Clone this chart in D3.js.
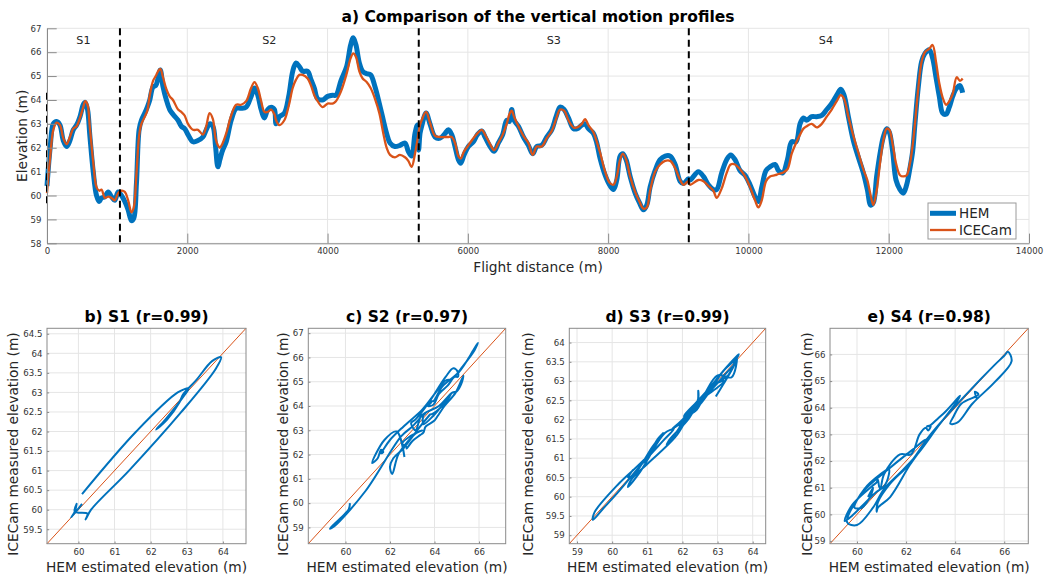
<!DOCTYPE html>
<html>
<head>
<meta charset="utf-8">
<script src="https://cdn.jsdelivr.net/npm/d3@7"></script>
<style>
  body { margin: 0; background: #fff; }
  svg { display: block; }
</style>
</head>
<body>
<svg id="fig" width="1045" height="579"></svg>
<script>
// ---- Profile data: flight distance (m) with HEM and ICECam elevations (m) ----
const distance = [
  0,45,90,137,185,232,280,327,374,422,470,517,545,578,611,659,706,744,777,825,872,920,967,1014,
  1062,1109,1157,1204,1237,1275,1313,1346,1394,1430,1465,1512,1550,1583,1616,1654,1702,1749,1796,1868,
  1915,1962,2010,2081,2152,2223,2270,2318,2365,2403,2436,2465,2498,2555,2626,2697,2768,2839,2910,2958,
  3005,3053,3100,3147,3195,3242,3266,3313,3384,3446,3503,3550,3598,3645,3716,3764,3811,3858,3929,4001,
  4072,4119,4190,4272,4329,4367,4405,4453,4500,4557,4614,4676,4738,4795,4842,4890,4961,5032,5104,5151,
  5199,5246,5280,5298,
  5318,5341,5404,5460,5532,5604,5675,5722,5770,5817,5865,5898,5946,6007,6079,6136,6198,6245,6317,6374,
  6435,6497,6554,6592,6625,6659,6721,6792,6863,6925,6982,7054,7125,7196,7258,7315,7372,7434,7505,7562,
  7624,7671,7719,7790,7838,7885,7957,8019,8076,8123,8171,8209,8256,8313,8385,8446,8503,8551,8598,8670,
  8741,8812,8884,8955,9026,9074,9145,
  9167,9286,9358,9429,9500,9548,9619,9690,9747,9809,9880,9952,10023,10094,10142,10190,10251,10308,10380,10427,
  10489,10556,10617,10679,10736,10784,10831,10902,10974,11045,11116,11187,11259,11316,11363,11425,11496,11567,11638,11695,
  11743,11781,11828,11876,11923,11971,12009,12056,12104,12161,12208,12256,12303,12341,12374,12422,12469,12517,12579,12626,
  12674,12721,12769,12817,12864,12912,12969,13016,13054
];

const hem = [
  60.4,62.0,63.0,63.1,62.95,62.3,62.05,62.3,62.75,62.95,63.3,63.8,63.9,63.6,62.5,61.0,60.0,59.75,59.9,59.95,60.15,59.95,59.8,60.15,
  60.0,59.75,59.4,58.95,59.05,60.5,62.75,63.15,63.45,63.7,64.0,64.55,64.6,64.9,65.25,64.55,64.0,63.6,63.4,63.15,
  62.9,62.8,62.55,62.25,62.3,62.45,62.75,63.0,62.9,62.05,61.2,61.5,61.85,62.25,63.15,63.65,63.65,63.7,64.15,64.5,
  64.2,63.6,63.25,63.6,63.7,63.6,63.0,63.3,63.45,64.15,65.2,65.55,65.4,65.2,65.2,64.85,64.5,64.05,64.0,64.15,
  64.2,64.2,64.8,65.4,66.3,66.6,66.3,65.55,65.2,65.1,65.05,64.55,63.85,63.15,62.6,62.2,62.05,62.1,62.2,61.85,
  61.65,62.6,62.95,61.9,
  62.6,62.9,63.45,63.0,62.45,62.4,62.6,62.75,62.55,62.05,61.5,61.35,61.7,62.05,62.25,62.55,62.7,62.45,62.05,61.85,
  62.2,62.55,63.15,63.1,63.6,63.15,62.9,62.45,62.1,61.75,62.05,62.1,62.45,62.75,63.3,63.7,63.6,63.25,62.8,62.8,
  62.95,63.0,62.8,62.6,62.2,61.55,60.85,60.45,60.25,60.65,61.65,61.75,61.5,60.8,60.1,59.7,59.4,59.6,60.35,61.05,
  61.5,61.65,61.65,61.3,60.6,60.5,60.7,
  60.65,61.0,60.8,60.45,60.25,60.25,60.95,61.5,61.7,61.5,61.05,60.85,60.45,59.95,59.75,60.35,61.05,61.2,61.3,61.05,
  60.95,61.5,62.25,62.25,63.0,63.25,63.15,63.3,63.3,63.35,63.6,63.85,64.2,64.45,64.2,63.3,62.3,61.6,60.95,60.25,
  59.6,59.7,60.8,61.75,62.45,62.8,62.65,61.85,60.65,60.25,60.1,60.45,61.15,61.85,63.0,64.55,65.6,65.95,66.1,65.75,
  64.95,64.15,63.45,63.4,63.7,64.15,64.5,64.6,64.3
];

const icecam = [
  60.1,61.6,62.75,63.05,62.95,62.4,62.15,62.45,62.8,62.9,63.25,63.7,63.95,63.8,62.85,61.4,60.35,60.2,60.25,59.9,59.95,59.9,59.8,60.1,
  60.2,60.15,59.8,59.3,59.5,60.9,62.5,63.0,63.3,63.55,64.2,64.8,65.0,65.2,65.3,64.95,64.45,64.15,64.0,63.6,
  63.5,63.35,63.0,62.75,62.75,62.55,62.9,63.45,63.2,62.4,62.1,62.0,62.15,62.6,63.35,63.8,63.8,63.95,64.5,64.75,
  64.5,63.95,63.5,63.5,63.6,63.4,63.15,62.95,63.15,63.75,64.5,64.85,65.05,65.05,64.9,64.6,64.2,63.95,63.7,63.85,
  63.85,63.95,64.35,65.1,65.75,65.95,65.8,65.2,64.9,64.75,64.5,64.05,63.45,62.6,62.0,61.7,61.6,61.7,61.6,61.45,
  61.2,61.75,62.3,62.65,
  62.95,63.15,63.5,63.05,62.5,62.45,62.45,62.45,62.45,62.2,61.65,61.55,61.85,62.1,62.4,62.6,62.75,62.55,62.15,61.9,
  62.2,62.55,63.0,63.4,63.55,63.3,62.9,62.5,62.2,61.7,62.05,62.05,62.4,62.7,63.2,63.6,63.55,63.15,62.85,62.85,
  63.0,63.2,62.95,62.65,62.25,61.8,61.0,60.55,60.45,60.8,61.5,61.75,61.5,60.8,60.15,59.75,59.45,59.5,60.2,61.0,
  61.3,61.45,61.45,61.15,60.65,60.45,60.6,
  60.45,60.65,60.6,60.4,60.2,59.9,60.3,60.95,61.3,61.3,61.1,60.8,60.35,59.8,59.5,59.8,60.6,60.8,60.85,60.9,
  60.95,61.1,61.75,62.2,62.55,62.8,62.9,63.0,62.85,63.0,63.3,63.6,63.95,64.2,64.05,63.3,62.5,61.8,61.1,60.65,
  60.0,59.6,60.2,61.35,62.3,62.8,62.75,62.15,61.35,60.85,60.8,60.85,61.35,62.1,63.0,64.5,65.6,66.0,66.15,66.3,
  65.6,64.7,64.1,63.8,63.95,64.25,64.95,64.8,64.9
];

// Section boundaries along the flight (m) and their names
const segmentBreaks = [0, 1040, 5300, 9150, 13060];
const segmentNames = ["S1", "S2", "S3", "S4"];
// Elevation extent (m) of each dashed section marker
const markerLow = [59.5, 58, 58, 58];
const markerHigh = [64.3, 67, 67, 67];

// Top axis ticks
const distanceTicks = [0, 2000, 4000, 6000, 8000, 10000, 12000, 14000];
const elevationTicks = [58, 59, 60, 61, 62, 63, 64, 65, 66, 67];

// Scatter panels
const panelTitles = ["b) S1 (r=0.99)", "c) S2 (r=0.97)", "d) S3 (r=0.99)", "e) S4 (r=0.98)"];
const panelDomains = [[59.13, 64.64], [58.33, 67.2], [58.78, 64.37], [58.9, 66.98]];
const panelXTicks = [[60, 61, 62, 63, 64], [60, 62, 64, 66], [59, 60, 61, 62, 63, 64], [60, 62, 64, 66]];
const panelYTicks = [
  [59.5, 60, 60.5, 61, 61.5, 62, 62.5, 63, 63.5, 64, 64.5],
  [59, 60, 61, 62, 63, 64, 65, 66, 67],
  [59, 59.5, 60, 60.5, 61, 61.5, 62, 62.5, 63, 63.5, 64],
  [59, 60, 61, 62, 63, 64, 65, 66]
];

// ---- Styling ----
const FONT = '"DejaVu Sans", "Liberation Sans", sans-serif';
const HEM_COLOR = "#0072BD";
const ICE_COLOR = "#D95319";
const GRID = "#e5e5e5";
const AXIS = "#8a8a8a";
const TICK_TEXT = "#333";
const LABEL = "#262626";

const svg = d3.select("#fig");
const points = distance.map((d, i) => ({ d, hem: hem[i], ice: icecam[i] }));

function styleAxis(g, size) {
  g.attr("font-family", FONT).attr("font-size", size);
  g.select(".domain").attr("stroke", AXIS);
  g.selectAll(".tick line").attr("stroke", AXIS);
  g.selectAll(".tick text").attr("fill", TICK_TEXT);
}

// ================= a) profile panel =================
const T = { l: 47, r: 1029, t: 28.3, b: 243.3 };
const x = d3.scaleLinear().domain([0, 14000]).range([T.l, T.r]);
const y = d3.scaleLinear().domain([58, 67]).range([T.b, T.t]);
const gA = svg.append("g");

gA.append("g").selectAll("line").data(distanceTicks).join("line")
  .attr("x1", d => x(d)).attr("x2", d => x(d)).attr("y1", T.t).attr("y2", T.b)
  .attr("stroke", GRID).attr("stroke-width", 1);
gA.append("g").selectAll("line").data(elevationTicks).join("line")
  .attr("x1", T.l).attr("x2", T.r).attr("y1", d => y(d)).attr("y2", d => y(d))
  .attr("stroke", GRID).attr("stroke-width", 1);

const profile = key => d3.line().x(p => x(p.d)).y(p => y(p[key])).curve(d3.curveCatmullRom.alpha(0.5));
gA.append("path").datum(points).attr("d", profile("hem"))
  .attr("fill", "none").attr("stroke", HEM_COLOR).attr("stroke-width", 5).attr("stroke-linejoin", "round");
gA.append("path").datum(points).attr("d", profile("ice"))
  .attr("fill", "none").attr("stroke", ICE_COLOR).attr("stroke-width", 2.3).attr("stroke-linejoin", "round");

// section markers
gA.append("g").selectAll("line").data(segmentBreaks.slice(0, 4)).join("line")
  .attr("x1", d => x(d)).attr("x2", d => x(d))
  .attr("y1", (d, i) => y(markerHigh[i])).attr("y2", (d, i) => y(markerLow[i]))
  .attr("stroke", "#000").attr("stroke-width", 2).attr("stroke-dasharray", "7,4.5");

// section names
gA.append("g").selectAll("text").data(segmentNames).join("text")
  .attr("x", (d, i) => x((segmentBreaks[i] + segmentBreaks[i + 1]) / 2))
  .attr("y", y(66.5)).attr("dy", "0.36em")
  .attr("text-anchor", "middle").attr("font-family", FONT).attr("font-size", 11.2)
  .attr("fill", LABEL).text(d => d);

const axA = gA.append("g").attr("transform", `translate(0,${T.b})`)
  .call(d3.axisBottom(x).tickValues(distanceTicks).tickSize(-9.7).tickSizeOuter(0).tickPadding(5).tickFormat(d3.format("d")));
styleAxis(axA, 8.6);
const ayA = gA.append("g").attr("transform", `translate(${T.l},0)`)
  .call(d3.axisLeft(y).tickValues(elevationTicks).tickSize(-9.7).tickSizeOuter(0).tickPadding(5.5).tickFormat(d3.format("d")));
styleAxis(ayA, 8.6);

gA.append("text").attr("x", (T.l + T.r) / 2).attr("y", 16.7).attr("dy", "0.36em")
  .attr("text-anchor", "middle").attr("font-family", FONT).attr("font-weight", "bold")
  .attr("font-size", 15.5).attr("fill", "#000").text("a) Comparison of the vertical motion profiles");
gA.append("text").attr("x", (T.l + T.r) / 2).attr("y", 266.7).attr("dy", "0.36em")
  .attr("text-anchor", "middle").attr("font-family", FONT).attr("font-size", 13.75)
  .attr("fill", LABEL).text("Flight distance (m)");
gA.append("text").attr("transform", `translate(21.7,${(T.t + T.b) / 2}) rotate(-90)`).attr("dy", "0.36em")
  .attr("text-anchor", "middle").attr("font-family", FONT).attr("font-size", 13.75)
  .attr("fill", LABEL).text("Elevation (m)");

// legend
const legendItems = [
  { name: "HEM", color: HEM_COLOR, width: 5 },
  { name: "ICECam", color: ICE_COLOR, width: 2.3 }
];
const lg = gA.append("g").attr("transform", `translate(${T.r - 101},${T.b - 40.3})`);
lg.append("rect").attr("x", 0).attr("y", 0).attr("width", 88).attr("height", 36)
  .attr("fill", "#fff").attr("stroke", "#9a9a9a").attr("stroke-width", 1);
const li = lg.selectAll("g").data(legendItems).join("g")
  .attr("transform", (d, i) => `translate(0,${10.3 + i * 16.7})`);
li.append("line").attr("x1", 2).attr("x2", 28).attr("y1", 0).attr("y2", 0)
  .attr("stroke", d => d.color).attr("stroke-width", d => d.width);
li.append("text").attr("x", 31).attr("y", 0).attr("dy", "0.36em")
  .attr("font-family", FONT).attr("font-size", 13.5).attr("fill", LABEL).text(d => d.name);

// ================= b)-e) scatter panels =================
const B = { t: 328.3, b: 543.7 };
const panelLeft = [47, 308.3, 569.3, 830];
const panelRight = [246, 505.7, 765.7, 1028.3];
const yLabelOffset = [33.7, 25.6, 41, 23.3];

panelDomains.forEach((dom, k) => {
  const L = panelLeft[k], R = panelRight[k];
  const sx = d3.scaleLinear().domain(dom).range([L, R]);
  const sy = d3.scaleLinear().domain(dom).range([B.b, B.t]);
  const g = svg.append("g");

  g.append("g").selectAll("line").data(panelXTicks[k]).join("line")
    .attr("x1", d => sx(d)).attr("x2", d => sx(d)).attr("y1", B.t).attr("y2", B.b)
    .attr("stroke", GRID);
  g.append("g").selectAll("line").data(panelYTicks[k]).join("line")
    .attr("x1", L).attr("x2", R).attr("y1", d => sy(d)).attr("y2", d => sy(d))
    .attr("stroke", GRID);

  // 1:1 reference line
  g.append("line")
    .attr("x1", sx(dom[0])).attr("y1", sy(dom[0])).attr("x2", sx(dom[1])).attr("y2", sy(dom[1]))
    .attr("stroke", ICE_COLOR).attr("stroke-width", 1);

  const seg = points.filter(p => p.d >= segmentBreaks[k] && p.d < segmentBreaks[k + 1]);
  g.append("path").datum(seg)
    .attr("d", d3.line().x(p => sx(p.ice)).y(p => sy(p.hem)).curve(d3.curveCatmullRom.alpha(0.5)))
    .attr("fill", "none").attr("stroke", HEM_COLOR).attr("stroke-width", 2).attr("stroke-linejoin", "round");

  g.append("rect").attr("x", L).attr("y", B.t).attr("width", R - L).attr("height", B.b - B.t)
    .attr("fill", "none").attr("stroke", AXIS).attr("stroke-width", 1);

  const ax = g.append("g").attr("transform", `translate(0,${B.b})`)
    .call(d3.axisBottom(sx).tickValues(panelXTicks[k]).tickSize(-2.2).tickSizeOuter(0).tickPadding(5).tickFormat(d => d));
  styleAxis(ax, 8.6);
  ax.select(".domain").remove();
  const ay = g.append("g").attr("transform", `translate(${L},0)`)
    .call(d3.axisLeft(sy).tickValues(panelYTicks[k]).tickSize(-2.2).tickSizeOuter(0).tickPadding(4.5).tickFormat(d => d));
  styleAxis(ay, 8.6);
  ay.select(".domain").remove();

  g.append("text").attr("x", (L + R) / 2).attr("y", 316.7).attr("dy", "0.36em")
    .attr("text-anchor", "middle").attr("font-family", FONT).attr("font-weight", "bold")
    .attr("font-size", 15.5).attr("fill", "#000").text(panelTitles[k]);
  g.append("text").attr("x", (L + R) / 2).attr("y", 567.5).attr("dy", "0.36em")
    .attr("text-anchor", "middle").attr("font-family", FONT).attr("font-size", 13.75)
    .attr("fill", LABEL).text("HEM estimated elevation (m)");
  g.append("text").attr("transform", `translate(${L - yLabelOffset[k]},444) rotate(-90)`).attr("dy", "0.36em")
    .attr("text-anchor", "middle").attr("font-family", FONT).attr("font-size", 13.75)
    .attr("fill", LABEL).text("ICECam measured elevation (m)");
});
</script>
</body>
</html>
